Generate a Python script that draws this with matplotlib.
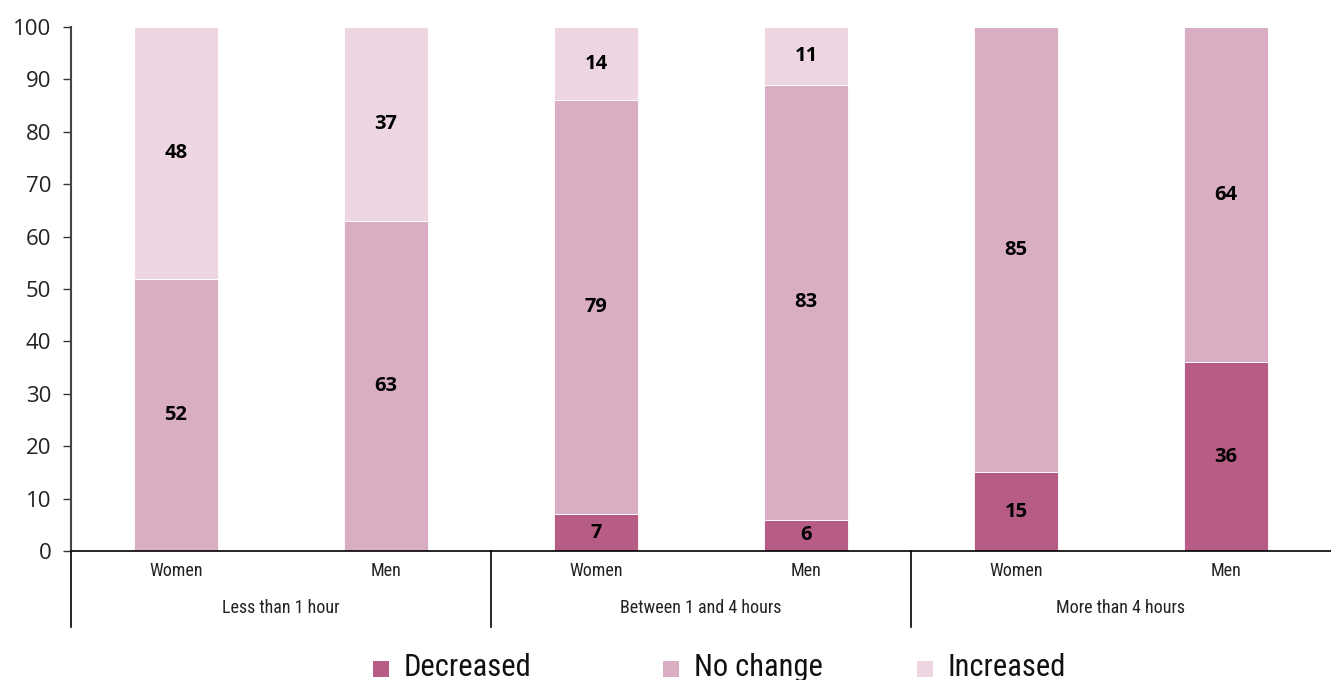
import numpy as np
import matplotlib.pyplot as plt
from matplotlib.patches import Rectangle

# data
groups = ['Less than 1 hour', 'Between 1 and 4 hours', 'More than 4 hours']
genders = ['Women', 'Men']
decreased = [0, 0, 7, 6, 15, 36]
no_change = [52, 63, 79, 83, 85, 64]
increased = [48, 37, 14, 11, 0, 0]
series = ['Decreased', 'No change', 'Increased']
colors = ['#B75D85', '#D9ADC2', '#EDD6E2']

narrow = ['Liberation Sans Narrow', 'Roboto Condensed', 'Open Sans Condensed', 'Open Sans']
plt.rcParams['font.family'] = ['Open Sans', 'DejaVu Sans']

W, H = 1331, 680
fig = plt.figure(figsize=(W / 100, H / 100), dpi=100)
ax = fig.add_axes([0.0533, 0.1897, 0.9467, 0.7706])

x = np.arange(len(decreased))
bottom = np.zeros(len(x))
for vals, col in zip([decreased, no_change, increased], colors):
    vals = np.array(vals)
    ax.bar(x, vals, 0.4, bottom=bottom, color=col, edgecolor='white', linewidth=0.6)
    for xi, b, v in zip(x, bottom, vals):
        if v > 0:
            ax.text(xi, b + v / 2, str(v), ha='center', va='center',
                    fontsize=14.5, fontweight='bold', color='black')
    bottom += vals

ax.set_xlim(-0.5, 5.5)
ax.set_ylim(0, 100)
ax.set_yticks(range(0, 101, 10))
ax.tick_params(axis='y', labelsize=16, length=6, width=1, colors='#333333', pad=8)
ax.tick_params(axis='y', labelcolor='#222222')
ax.set_xticks([])
for s in ['top', 'right']:
    ax.spines[s].set_visible(False)
ax.spines['left'].set_color('#444444')
ax.spines['left'].set_linewidth(1.5)
ax.spines['bottom'].set_color('black')
ax.spines['bottom'].set_linewidth(1.2)

# category labels
trans = ax.get_xaxis_transform()
for xi in x:
    ax.text(xi, -0.039, genders[xi % 2], transform=trans, ha='center', va='center',
            fontsize=13, family=narrow, color='#222222')
for gi, g in enumerate(groups):
    ax.text(2 * gi + 0.5, -0.108, g, transform=trans, ha='center', va='center',
            fontsize=13, family=narrow, color='#222222')
for sep in [-0.5, 1.5, 3.5]:
    ax.plot([sep, sep], [0, -0.145], transform=trans, color='black', lw=1.2, clip_on=False)

# legend placed by hand
leg_x = [373, 663, 917]
for lx, name, col in zip(leg_x, series, colors):
    fig.add_artist(Rectangle((lx / W, 1 - 677 / H), 16 / W, 16 / H,
                             transform=fig.transFigure, facecolor=col, edgecolor='none'))
    fig.text((lx + 31) / W, 1 - 667 / H, name, ha='left', va='center',
             fontsize=22, family=narrow, color='#111111')

fig.savefig('out.png', dpi=100)
